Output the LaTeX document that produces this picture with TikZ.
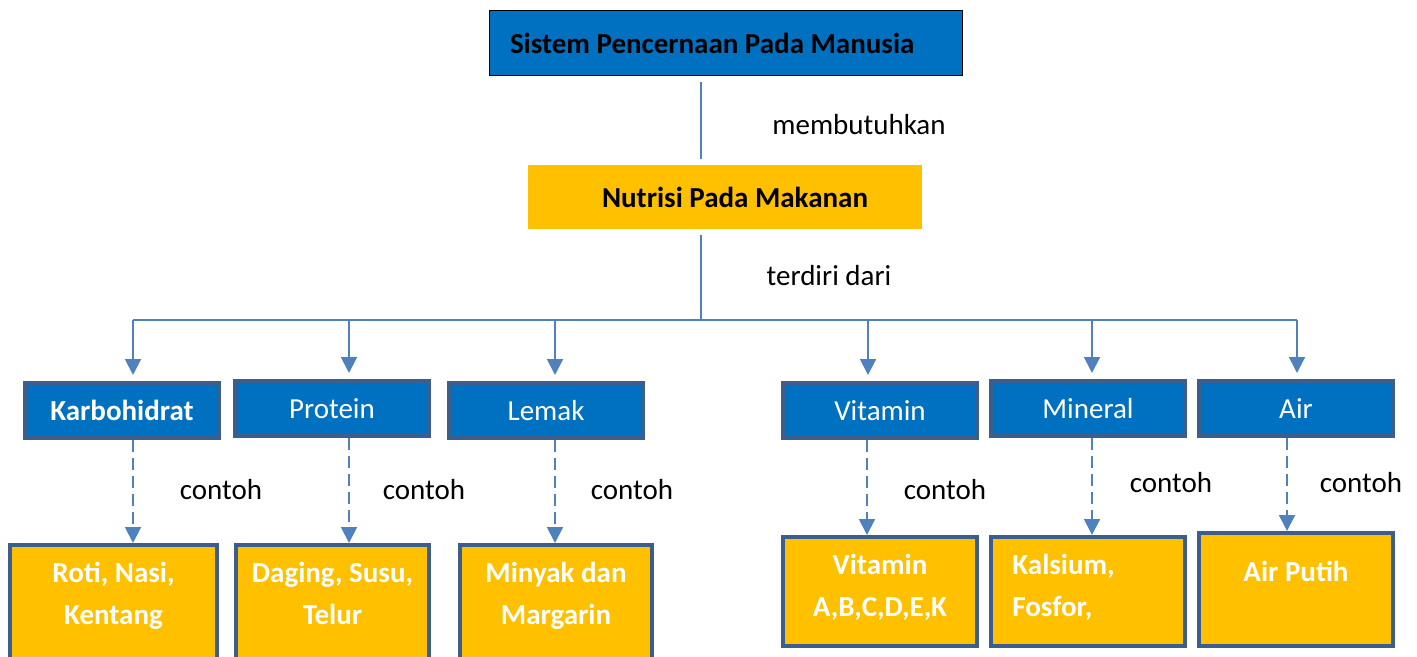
\documentclass[tikz,border=0pt]{standalone}
\usepackage{fontspec}
\setmainfont{Carlito}
\usetikzlibrary{arrows.meta}
\definecolor{boxblue}{HTML}{0070C0}
\definecolor{boxyellow}{HTML}{FFC000}
\definecolor{linkblue}{HTML}{4F81BD}
\definecolor{edgeblue}{HTML}{3B5E8C}

\begin{document}
\fontsize{14.5pt}{21pt}\selectfont
\begin{tikzpicture}[x=0.5pt, y=-0.5pt,
  head/.style = {draw, line width=0.6pt, fill=boxblue, minimum width=236.4pt, minimum height=32.4pt, text width=216pt, inner xsep=10.2pt, align=flush left, font=\bfseries},
  sub/.style = {fill=boxyellow, minimum width=197pt, minimum height=32pt, font=\bfseries},
  cat/.style = {draw=edgeblue, line width=2pt, fill=boxblue, text=white, minimum width=97pt, minimum height=27.5pt},
  ex/.style = {draw=edgeblue, line width=2pt, fill=boxyellow, anchor=north, minimum width=97pt},
  extext/.style = {text=white, font=\bfseries, align=center, inner sep=0pt, anchor=north, yshift=-9.5pt},
  link/.style = {draw=linkblue, line width=1pt},
  arr/.style = {link, -{Triangle[length=8pt, width=8pt]}, shorten >=3pt},
  dasharr/.style = {arr, dash pattern=on 6pt off 3pt, shorten >=0pt}]
\useasboundingbox (0,0) rectangle (1417,657);
\clip (0,0) rectangle (1417,657);

\node[head] (sistem) at (726,43) {Sistem Pencernaan Pada Manusia};
\node[sub] (nutrisi) at (725,197) {\hspace*{10pt}Nutrisi Pada Makanan};
\coordinate (bus) at (701,320);

\node[cat, font=\bfseries] (karbo) at (122,410.5) {Karbohidrat};
\node[cat] (protein) at (332,408.5) {Protein};
\node[cat] (lemak) at (546,410.5) {Lemak};
\node[cat] (vitamin) at (880,410.5) {Vitamin};
\node[cat] (mineral) at (1088,408.5) {Mineral};
\node[cat] (air) at (1296,408.5) {Air};

\node[ex, minimum width=103.5pt, minimum height=90pt, label={[extext]north:{Roti, Nasi,\\Kentang}}] (roti) at (113.5,543) {};
\node[ex, minimum width=96.5pt, minimum height=90pt, label={[extext]north:{Daging, Susu,\\Telur}}] (daging) at (332.5,543) {};
\node[ex, minimum width=96pt, minimum height=90pt, label={[extext]north:{Minyak dan\\Margarin}}] (minyak) at (556,543) {};
\node[ex, minimum height=54.5pt, label={[extext]north:{Vitamin\\A,B,C,D,E,K}}] (vitabc) at (880,535) {};
\node[ex, minimum height=54.5pt, label={[extext, anchor=north west, align=left, xshift=11.5pt]north west:{Kalsium,\\Fosfor,}}] (kalsium) at (1088,535) {};
\node[ex, minimum height=56.5pt, label={[extext, yshift=-5.5pt]north:{Air Putih}}] (putih) at (1296,531) {};

\node (butuh) at (859,125) {membutuhkan};
\node (terdiri) at (829,276) {terdiri dari};
\node (c1) at (221,490) {contoh};
\node (c2) at (424,490) {contoh};
\node (c3) at (632,490) {contoh};
\node (c4) at (945,490) {contoh};
\node (c5) at (1171,483) {contoh};
\node (c6) at (1361,483) {contoh};

\draw[link, shorten <=3pt, shorten >=3pt] (bus |- sistem.south) -- (bus |- nutrisi.north);
\draw[link, shorten <=3pt] (bus |- nutrisi.south) -- (bus);
\draw[link] ([xshift=5.5pt]karbo.north |- bus) -- ([xshift=0.5pt]air.north |- bus);
\foreach \n/\dx in {karbo/5.5pt, protein/8.5pt, lemak/4.5pt, vitamin/-6pt, mineral/2pt, air/0.5pt}
  \draw[arr] ([xshift=\dx]\n.north |- bus) -- ([xshift=\dx]\n.north);
\foreach \n/\m/\dx in {karbo/roti/5.5pt, protein/daging/8.5pt, lemak/minyak/4.5pt, vitamin/vitabc/-6.5pt, mineral/kalsium/2pt, air/putih/-4.5pt}
  \draw[dasharr] ([xshift=\dx]\n.south) -- ([xshift=\dx]\n.south |- \m.north);

\end{tikzpicture}
\end{document}
